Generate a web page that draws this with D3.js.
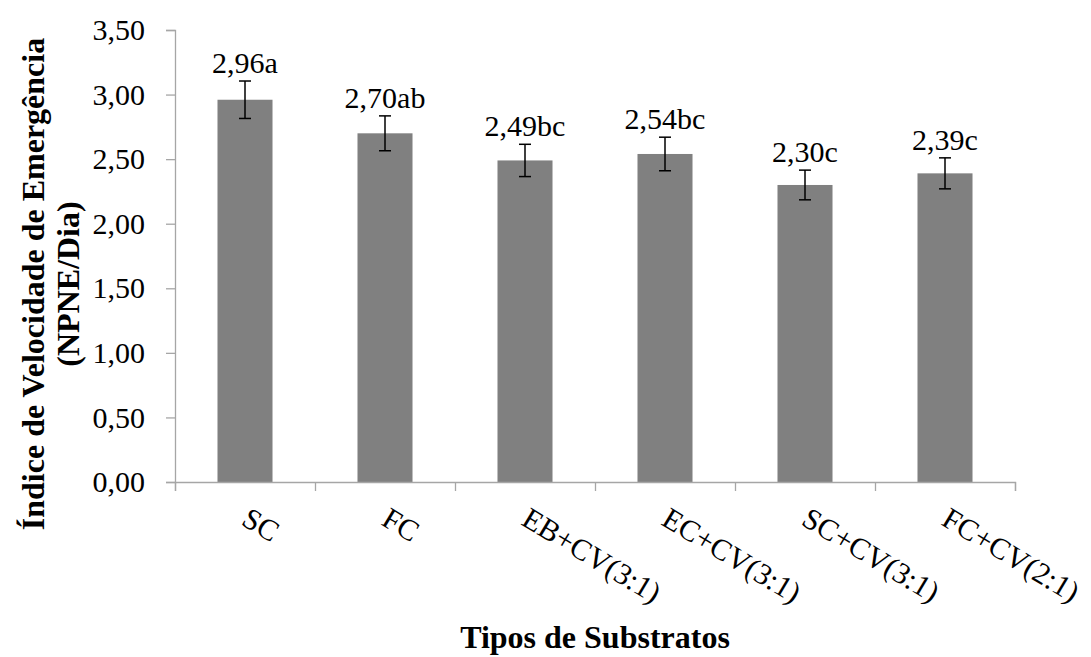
<!DOCTYPE html>
<html>
<head>
<meta charset="utf-8">
<script src="https://cdn.jsdelivr.net/npm/d3@7"></script>
<style>
  html, body { margin: 0; padding: 0; background: #ffffff; }
  svg { display: block; }
  svg text { font-family: "Liberation Serif", Tinos, "DejaVu Serif", serif; }
</style>
</head>
<body>
<div id="chart"></div>
<script>
// ---- data ----
const categories = ["SC", "FC", "EB+CV(3:1)", "EC+CV(3:1)", "SC+CV(3:1)", "FC+CV(2:1)"];
const values = [2.96, 2.70, 2.49, 2.54, 2.30, 2.39];
const errors = [0.145, 0.135, 0.125, 0.13, 0.115, 0.12];
const letters = ["a", "ab", "bc", "bc", "c", "c"];
const yTicks = [0, 0.5, 1.0, 1.5, 2.0, 2.5, 3.0, 3.5];
const yTitle = ["Índice de Velocidade de Emergência", "(NPNE/Dia)"];
const xTitle = "Tipos de Substratos";

const W = 1091, H = 657;
const mLeft = 175, mRight = 1015, mTop = 30, mBottom = 482;
const axisColor = "#a6a6a6";
const fs = 30, fsTitle = 32;
const serif = '"Liberation Serif", Tinos, "DejaVu Serif", serif';

const svg = d3.select("#chart").append("svg").attr("width", W).attr("height", H)
  .attr("font-family", serif);

const y = d3.scaleLinear().domain([0, 3.5]).range([mBottom, mTop]);
const x = d3.scaleBand().domain(categories).range([mLeft, mRight]).paddingInner(0.607).paddingOuter(0.3035);
const xIdx = d3.scaleLinear().domain([0, categories.length]).range([mLeft, mRight]);
const fmt = v => v.toFixed(2).replace(".", ",");

// bars
svg.append("g").selectAll("rect").data(categories).join("rect")
  .attr("x", d => x(d))
  .attr("y", (d, i) => y(values[i]))
  .attr("width", x.bandwidth())
  .attr("height", (d, i) => y(0) - y(values[i]))
  .attr("fill", "#808080");

// y axis
const gy = svg.append("g").attr("transform", `translate(${mLeft},0)`)
  .call(d3.axisLeft(y).tickValues(yTicks).tickSize(9).tickPadding(21).tickFormat(fmt));
gy.attr("font-family", serif).attr("font-size", fs);
gy.select(".domain").attr("stroke", axisColor).attr("stroke-width", 1.3);
gy.selectAll(".tick line").attr("stroke", axisColor).attr("stroke-width", 1.3);
gy.selectAll(".tick text").attr("fill", "#000");

// x axis (category boundaries)
const gx = svg.append("g").attr("transform", `translate(0,${mBottom})`)
  .call(d3.axisBottom(xIdx).ticks(categories.length).tickSize(9).tickFormat(""));
gx.select(".domain").attr("stroke", axisColor).attr("stroke-width", 1.3);
gx.selectAll(".tick line").attr("stroke", axisColor).attr("stroke-width", 1.3);

// error bars
const cap = 6;
const eg = svg.append("g").attr("stroke", "#000").attr("stroke-width", 1.5).attr("fill", "none");
categories.forEach((c, i) => {
  const cx = x(c) + x.bandwidth() / 2;
  const y1 = y(values[i] + errors[i]), y2 = y(values[i] - errors[i]);
  eg.append("line").attr("x1", cx).attr("x2", cx).attr("y1", y1).attr("y2", y2);
  eg.append("line").attr("x1", cx - cap).attr("x2", cx + cap).attr("y1", y1).attr("y2", y1);
  eg.append("line").attr("x1", cx - cap).attr("x2", cx + cap).attr("y1", y2).attr("y2", y2);
});

// value labels
svg.append("g").selectAll("text").data(categories).join("text")
  .attr("x", d => x(d) + x.bandwidth() / 2)
  .attr("y", (d, i) => y(values[i] + errors[i]) - 8)
  .attr("text-anchor", "middle")
  .attr("font-size", fs)
  .attr("fill", "#000")
  .text((d, i) => fmt(values[i]) + letters[i]);

// rotated category labels
svg.append("g").selectAll("text").data(categories).join("text")
  .attr("transform", d => `translate(${x(d) + x.bandwidth() / 2 - 5},${mBottom + 42}) rotate(31)`)
  .attr("text-anchor", "start")
  .attr("font-size", fs)
  .attr("fill", "#000")
  .text(d => d);

// x title
svg.append("text")
  .attr("x", (mLeft + mRight) / 2).attr("y", 648)
  .attr("text-anchor", "middle").attr("font-size", fsTitle).attr("font-weight", "bold")
  .text(xTitle);

// y title
const yt = svg.append("text")
  .attr("transform", `translate(44,284) rotate(-90)`)
  .attr("text-anchor", "middle").attr("font-size", fsTitle).attr("font-weight", "bold");
yt.append("tspan").attr("x", 0).attr("dy", 0).text(yTitle[0]);
yt.append("tspan").attr("x", 0).attr("dy", 35).text(yTitle[1]);
</script>
</body>
</html>
